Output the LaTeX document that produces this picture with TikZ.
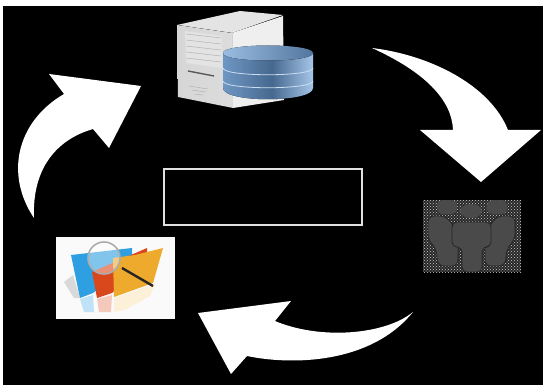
\documentclass[tikz,border=0pt]{standalone}
\usetikzlibrary{patterns}
\definecolor{srvL}{HTML}{D6D6D6}
\definecolor{srvR}{HTML}{EFEFEF}
\definecolor{srvT}{HTML}{E4E4E4}
\definecolor{dbD}{HTML}{46688F}
\definecolor{dbM}{HTML}{6F97C4}
\definecolor{dbL}{HTML}{A6C6E8}
\definecolor{peop}{HTML}{4A4A4A}
\definecolor{peopbg}{HTML}{262626}
\definecolor{fBlue}{HTML}{2E9FE0}
\definecolor{fRed}{HTML}{D9481C}
\definecolor{fYel}{HTML}{EDAA2C}
\tikzset{flow/.style={fill=white,draw=none},
 box/.style={draw=white!88!black,line width=1.4pt,fill=black,inner sep=0pt,minimum width=198pt,minimum height=56pt},
 fig/.style={fill=peop,draw=peopbg,line width=.8pt}}
\begin{document}
\begin{tikzpicture}[x=1pt,y=-1pt]
\useasboundingbox (0,0) rectangle (543,385);
\fill[white] (0,0) rectangle (543,385);
\fill[black] (3,6) rectangle (543,385);
% arrows
\path[flow] (372,48) .. controls (430,55) and (490,85) .. (508,130) -- (541,130) -- (481,182) -- (420,130) -- (453,130) .. controls (452,100) and (425,72) .. (372,48) -- cycle;
\path[flow] (413,312) .. controls (385,335) and (320,340) .. (275,321) -- (291,301) -- (198,313) -- (231,374) -- (247,356) .. controls (290,365) and (370,365) .. (413,312) -- cycle;
\path[flow] (34,218) .. controls (5,175) and (16,122) .. (64,94) -- (49,74) -- (141,86) -- (109,148) -- (93,129) .. controls (55,140) and (32,170) .. (34,218) -- cycle;
% centre box
\node[box] (c) at (263,197) {};
% server
\fill[srvR] (232,33) -- (283,16) -- (284,100) -- (233,108) -- cycle;
\fill[srvT] (177,25) -- (240,11) -- (283,15) -- (232,33) -- cycle;
\fill[left color=srvL,right color=srvL!85!white] (177,25) -- (232,33) -- (233,108) -- (178,97) -- cycle;
\fill[gray!22] (185,31) -- (222,36) -- (222,68) -- (186,63) -- cycle;
\foreach \y in {35,41,47,53,59}{\draw[gray!60,line width=.5pt] (186,\y-1) -- (221,\y+3);}
\draw[black!65,line width=1.4pt] (188,71) -- (214,76);
\draw[gray!60,line width=.5pt] (189,86) -- (208,89) (192,90) -- (206,92) (195,94) -- (203,95);
% database
\begin{scope}
\clip (223,53) -- (223,88) .. controls (223,103) and (313,103) .. (313,88) -- (313,53) -- cycle;
\fill[left color=dbM,right color=dbD] (223,40) rectangle (272,105);
\fill[left color=dbD,right color=dbL] (272,40) rectangle (313,105);
\end{scope}
\fill[left color=dbL!80!dbM,right color=dbD!70!dbM] (223,53) .. controls (223,43) and (313,43) .. (313,53) .. controls (313,63) and (223,63) .. (223,53) -- cycle;
\foreach \y in {68,81}{\draw[dbL!60!white,line width=.8pt] (223,\y) .. controls (223,\y+9) and (313,\y+9) .. (313,\y);}
% folder card
\fill[white!96!gray] (56,237) rectangle (175,319);
\fill[gray!30] (64,282) -- (73,275) -- (80,298) -- (74,298) -- cycle;
\fill[fYel!18] (114,298) -- (155,284) -- (150,296) -- (125,310) -- (114,312) -- cycle;
\fill[fBlue!30] (80,299) -- (93,295) -- (94,312) -- (84,312) -- cycle;
\fill[fRed!30] (97,299) -- (112,295) -- (111,312) -- (99,312) -- cycle;
\fill[fBlue] (71,255) -- (132,248) -- (132,262) -- (93,293) -- (80,298) -- cycle;
\fill[fRed] (92,272) -- (147,248) -- (147,262) -- (112,293) -- (97,298) -- cycle;
\fill[fYel] (113,258) -- (135,255) -- (163,248) -- (153,283) -- (114,297) -- cycle;
\fill[white,opacity=.4] (104,258) circle[radius=16];
\draw[gray!65,line width=1.6pt] (104,258) circle[radius=16];
\draw[black!85,line width=2.4pt] (122,268) -- (153,286);
% people
\fill[peopbg] (423,200) rectangle (521,272);
\fill[pattern=crosshatch dots,pattern color=gray!35] (423,200) rectangle (521,272);
\fill[peop,rounded corners=5pt] (437,200) rectangle (457,214);
\fill[peop,rounded corners=5pt] (487,200) rectangle (507,214);
\path[fig,rounded corners=6pt] (428,216) -- (446,216) -- (458,232) -- (458,266) -- (438,266) -- (436,248) -- (428,240) -- cycle;
\path[fig,rounded corners=6pt] (515,216) -- (497,216) -- (485,232) -- (485,266) -- (505,266) -- (507,248) -- (515,240) -- cycle;
\fill[peop] (471,211) ellipse[x radius=11,y radius=7];
\path[fig,rounded corners=5pt] (452,222) -- (491,222) -- (491,247) -- (482,247) -- (482,272) -- (462,272) -- (462,247) -- (452,247) -- cycle;
\end{tikzpicture}
\end{document}
